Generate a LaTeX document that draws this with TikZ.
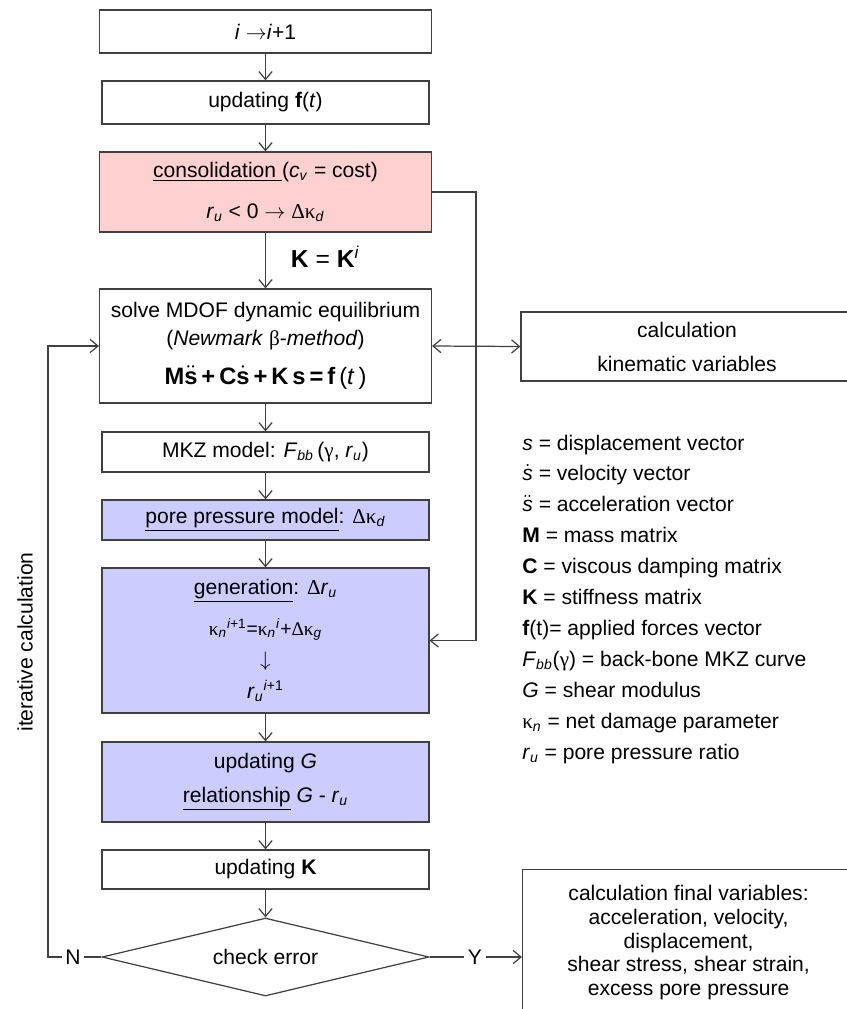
\documentclass[tikz,border=0pt]{standalone}
\usepackage{amsmath}
\usepackage{fontspec}
\setmainfont{Liberation Sans}
\newfontfamily\grkfont{Liberation Serif}
\newcommand{\gk}[1]{{\grkfont #1}}
\usepackage{tikz}
\usetikzlibrary{positioning,calc,arrows.meta,shapes.geometric}

\definecolor{linegray}{HTML}{404040}
\definecolor{pinkfill}{HTML}{FFD0D0}
\definecolor{bluefill}{HTML}{CCCCFF}

\begin{document}
\begin{tikzpicture}[x=0.02cm, y=-0.02cm, font=\fontsize{12}{14.4}\selectfont,
   >={Straight Barb[length=4.5pt,width=7.5pt]},
   line/.style={draw=linegray, line width=0.7pt},
   bx/.style={line, align=center, inner sep=0pt, minimum width=6.54cm, minimum height=0.8cm},
   wbx/.style={bx, minimum width=6.64cm},
   rbx/.style={wbx, fill=pinkfill},
   bbx/.style={bx, fill=bluefill}]
  \useasboundingbox (0,0) rectangle (847,1009);

  % main column
  \node[wbx, minimum height=0.86cm] (step) at (265.5,31.5) {\textit{i} $\rightarrow$\textit{i}+1};
  \node[bx, minimum height=0.86cm] (force) at (265.5,102.5) {updating \textbf{f}(\textit{t})};
  \node[rbx, minimum height=1.6cm] (cons) at (265.5,192)
     {\underline{consolidation }(\textit{c}\textsubscript{\textit{v}} = cost)\\[9pt]
      \textit{r}\textsubscript{\textit{u}} < 0 $\rightarrow$ \gk{Δκ}\textsubscript{\textit{d}}};
  \node[wbx, minimum height=2.28cm] (solve) at (265.5,346)
     {solve MDOF dynamic equilibrium\\[1pt]
      (\textit{Newmark} \gk{β}-\textit{method})\\[8pt]
      {\fontsize{13.5}{16}\selectfont\textbf{M}$\ddot{\textbf{s}}$\,\textbf{+}\,\textbf{C}$\dot{\textbf{s}}$\,\textbf{+}\,\textbf{K}\,\textbf{s}\,\textbf{=}\,\textbf{f}\,(\textit{t}\,)}};
  \node[bx] (mkz) at (265.5,452) {MKZ model: \textit{F}\textsubscript{\textit{bb}}\,(\gk{γ}, \textit{r}\textsubscript{\textit{u}})};
  \node[bbx] (pore) at (265.5,520) {\underline{pore pressure model}: \gk{Δκ}\textsubscript{\textit{d}}};
  \node[bbx, minimum height=2.9cm] (gen) at (265.5,640.5)
     {\underline{generation}: \gk{Δ}\textit{r}\textsubscript{\textit{u}}\\[7.7pt]
      {\fontsize{11}{13}\selectfont\gk{κ}\textsubscript{\textit{n}}\textsuperscript{\textit{i}+1}=\gk{κ}\textsubscript{\textit{n}}\textsuperscript{\textit{i}}+\gk{Δκ}\textsubscript{\textit{g}}}\\[3.7pt]
      $\downarrow$\\[3.7pt]
      \textit{r}\textsubscript{\textit{u}}\textsuperscript{\textit{i}+1}};
  \node[bbx, minimum height=1.6cm] (shear) at (265.5,782)
     {updating \textit{G}\\[5pt]
      \underline{relationship} \textit{G} - \textit{r}\textsubscript{\textit{u}}};
  \node[bx, minimum height=0.78cm] (stiff) at (265.5,869.5) {updating \textbf{K}};
  \node[diamond, line, inner sep=0pt, shape aspect=4.2, minimum width=6.54cm, minimum height=1.56cm] (check) at (265.5,957) {check error};

  % right side
  \node[wbx, minimum height=1.38cm] (kin) at (687,346.5) {calculation\\[5pt] kinematic variables};
  \node[wbx, minimum height=2.92cm, anchor=north west] (final) at (522,869)
     {calculation final variables:\\[-1pt] acceleration, velocity,\\[-1pt] displacement,\\[-1pt]
      shear stress, shear strain,\\[-1pt] excess pore pressure};

  % legend
  \foreach \txt [count=\k] in {
      {\textit{s} = displacement vector},
      {\smash{$\dot{\textit{s}}$} = velocity vector},
      {\smash{$\ddot{\textit{s}}$} = acceleration vector},
      {\textbf{M} = mass matrix},
      {\textbf{C} = viscous damping matrix},
      {\textbf{K} = stiffness matrix},
      {\textbf{f}(t)= applied forces vector},
      {\textit{F}\textsubscript{\textit{bb}}(\gk{γ}) = back-bone MKZ curve},
      {\textit{G} = shear modulus},
      {\gk{κ}\textsubscript{\textit{n}} = net damage parameter},
      {\textit{r}\textsubscript{\textit{u}} = pore pressure ratio}}
    \node[anchor=base west, inner sep=0pt] (leg\k) at (522,{450+30.9*(\k-1)}) {\txt};

  % labels
  \node[inner sep=2pt] (no) at (73,957) {N};
  \node[inner sep=2pt] (yes) at (475,957) {Y};
  \node[rotate=90] (iter) at (25,642) {iterative calculation};
  \coordinate (loop) at (48,957);
  \coordinate (tap) at (476,192);

  % connectors
  \draw[line, ->] (step) -- (force);
  \draw[line, ->] (force) -- (cons);
  \draw[line, ->] (cons) -- node[right=0.38cm, yshift=2pt] (kk) {\fontsize{14}{16}\selectfont\textbf{K} = \textbf{K}\textsuperscript{\textit{i}}} (solve);
  \draw[line, ->] (solve) -- (mkz);
  \draw[line, ->] (mkz) -- (pore);
  \draw[line, ->] (pore) -- (gen);
  \draw[line, ->] (gen) -- (shear);
  \draw[line, ->] (shear) -- (stiff);
  \draw[line, ->] (stiff) -- (check);
  \draw[line, ->] (cons.east) -- (tap) |- (gen.east);
  \draw[line, <->] (solve.east) -- (kin.west);
  \draw[line] (check.west) -- (no.east);
  \draw[line, ->] (no.west) -- (loop) |- (solve.west);
  \draw[line] (check.east) -- (yes.west);
  \draw[line, ->] (yes.east) -- (yes.east -| final.west);
\end{tikzpicture}
\end{document}
